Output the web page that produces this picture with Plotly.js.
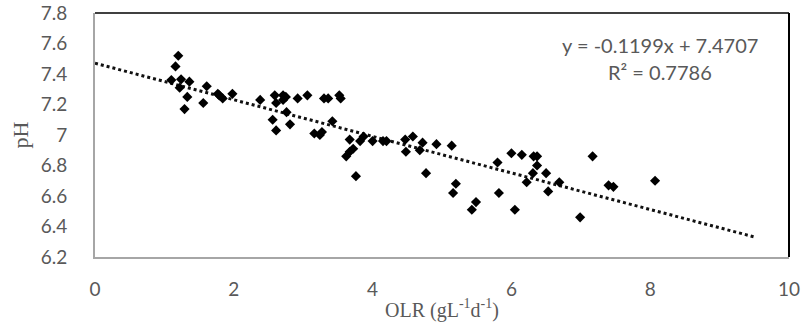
<!DOCTYPE html>
<html>
<head>
<meta charset="utf-8">
<script src="https://cdn.plot.ly/plotly-3.0.1.min.js"></script>
<style>html,body{margin:0;padding:0;background:#fff;}#chart{width:803px;height:329px;}</style>
</head>
<body>
<div id="chart"></div>
<script>
var olr = [1.20,1.16,1.10,1.24,1.22,1.36,1.33,1.29,1.61,1.56,1.77,1.84,1.79,1.98,2.38,
  2.59,2.61,2.71,2.75,2.71,2.92,3.06,3.30,3.36,3.52,3.54,2.76,2.56,2.81,2.61,3.42,3.16,3.27,3.24,
  3.67,3.72,3.62,3.67,3.76,3.87,3.82,4.00,4.15,4.20,4.47,4.58,4.48,4.72,4.68,4.77,
  4.92,5.14,5.20,5.16,5.49,5.43,6.00,6.15,5.80,6.32,6.37,6.37,6.50,6.31,6.22,6.53,6.69,5.82,6.05,6.99,7.17,
  7.40,7.47,8.07];
var ph = [7.52,7.45,7.36,7.365,7.31,7.35,7.25,7.17,7.32,7.21,7.27,7.24,7.26,7.27,7.23,
  7.26,7.21,7.26,7.25,7.23,7.24,7.26,7.24,7.24,7.26,7.24,7.15,7.10,7.07,7.03,7.09,7.01,7.02,7.00,
  6.97,6.91,6.86,6.89,6.73,6.99,6.96,6.96,6.96,6.96,6.97,6.99,6.89,6.95,6.90,6.75,
  6.94,6.93,6.68,6.62,6.56,6.51,6.88,6.87,6.82,6.86,6.86,6.80,6.75,6.75,6.69,6.63,6.69,6.62,6.51,6.46,6.86,
  6.67,6.66,6.70];
var trendX = [0, 9.5];
var trendY = [7.4707, 6.3317];
var yTicks = [6.2,6.4,6.6,6.8,7.0,7.2,7.4,7.6,7.8];
var yTickText = ['6.2','6.4','6.6','6.8','7','7.2','7.4','7.6','7.8'];
var xTicks = [0,2,4,6,8,10];
var xTickText = ['0','2','4','6','8','10'];
var eqText = 'y = -0.1199x + 7.4707';
var r2Text = 'R² = 0.7786';

var tickFont = {family:'Lato, "Open Sans", sans-serif', size:19, color:'#595959'};
var data = [
  {x: trendX, y: trendY, mode:'lines', type:'scatter', line:{color:'#111111', width:3, dash:'dot'}, hoverinfo:'skip'},
  {x: olr, y: ph, mode:'markers', type:'scatter', marker:{symbol:'diamond', size:7.8, color:'#000000'}}
];
var layout = {
  width:803, height:329,
  margin:{l:95, r:14, t:13, b:72},
  showlegend:false,
  paper_bgcolor:'#ffffff', plot_bgcolor:'#ffffff',
  xaxis:{range:[0,10], tickvals:xTicks, ticktext:xTickText, showgrid:false, zeroline:false,
    showline:true, linecolor:'#a6a6a6', linewidth:2, ticks:'', tickfont:tickFont, ticklabelstandoff:14,
    title:{text:'OLR (gL<sup>-1</sup>d<sup>-1</sup>)', font:{family:'"Liberation Serif", "Times New Roman", serif', size:20, color:'#595959'}, standoff:4}},
  yaxis:{range:[6.2,7.8], tickvals:yTicks, ticktext:yTickText, showgrid:false, zeroline:false,
    showline:true, linecolor:'#a6a6a6', linewidth:2, ticks:'', tickfont:tickFont, ticklabelstandoff:22,
    title:{text:'pH', font:{family:'"Liberation Serif", "Times New Roman", serif', size:22, color:'#595959'}, standoff:6}},
  shapes:[
    {type:'line', xref:'paper', yref:'paper', x0:0, x1:1, y0:1, y1:1, line:{color:'#000000', width:1.5}},
    {type:'line', xref:'paper', yref:'paper', x0:1, x1:1, y0:0, y1:1, line:{color:'#000000', width:2}}
  ],
  annotations:[
    {x:8.14, y:7.59, xref:'x', yref:'y', text:eqText, showarrow:false, font:{family:'Lato, sans-serif', size:20, color:'#595959'}},
    {x:8.14, y:7.41, xref:'x', yref:'y', text:r2Text, showarrow:false, font:{family:'Lato, sans-serif', size:20, color:'#595959'}}
  ]
};
Plotly.newPlot('chart', data, layout, {displayModeBar:false, staticPlot:true});
</script>
</body>
</html>
